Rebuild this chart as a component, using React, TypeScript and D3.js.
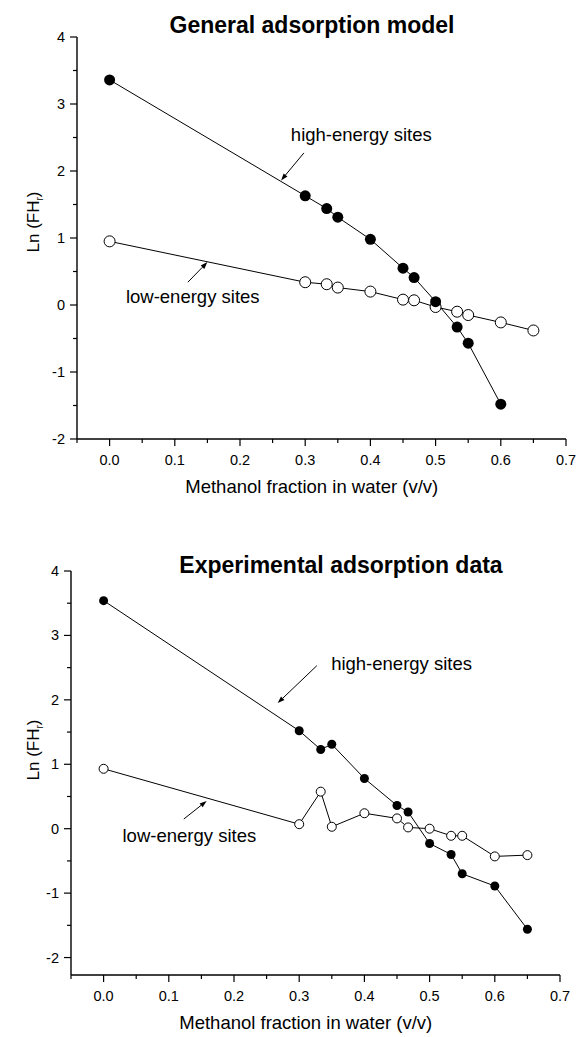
import React from 'react';
import * as d3 from 'd3';

const W = 579;
const H = 1037;
const FONT = '"Liberation Sans", Arial, Helvetica, sans-serif';

// methanol fraction (v/v)
const methanol = [0, 0.3, 0.333, 0.35, 0.4, 0.45, 0.467, 0.5, 0.533, 0.55, 0.6, 0.65];

// General adsorption model
const modelHigh = [3.36, 1.63, 1.44, 1.31, 0.98, 0.55, 0.41, 0.05, -0.33, -0.57, -1.48];
const modelLow = [0.95, 0.34, 0.31, 0.26, 0.2, 0.08, 0.07, -0.03, -0.1, -0.15, -0.26, -0.38];

// Experimental adsorption data
const expHigh = [3.54, 1.52, 1.23, 1.31, 0.78, 0.36, 0.26, -0.23, -0.4, -0.7, -0.89, -1.56];
const expLow = [0.93, 0.07, 0.575, 0.03, 0.24, 0.16, 0.02, 0.0, -0.11, -0.11, -0.43, -0.41];

const xTicks = [0, 0.1, 0.2, 0.3, 0.4, 0.5, 0.6, 0.7];
const xMinor = [-0.05, 0.05, 0.15, 0.25, 0.35, 0.45, 0.55, 0.65];
const yTicks = [-2, -1, 0, 1, 2, 3, 4];
const yMinor = [-1.5, -0.5, 0.5, 1.5, 2.5, 3.5];

type Note = { text: string; tx: number; ty: number; from: [number, number]; to: [number, number] };

const modelNotes: Note[] = [
  { text: 'high-energy sites', tx: 0.278, ty: 2.45, from: [0.298, 2.27], to: [0.263, 1.86] },
  { text: 'low-energy sites', tx: 0.025, ty: 0.03, from: [0.12, 0.34], to: [0.15, 0.64] },
];
const expNotes: Note[] = [
  { text: 'high-energy sites', tx: 0.349, ty: 2.47, from: [0.327, 2.53], to: [0.267, 1.95] },
  { text: 'low-energy sites', tx: 0.029, ty: -0.21, from: [0.123, 0.15], to: [0.158, 0.43] },
];

type PanelProps = {
  title: string;
  titleX: number;
  titleY: number;
  xRange: [number, number];
  yAt: [number, number]; // pixel of y=4 and y=0
  yBottom: number;
  high: number[];
  low: number[];
  notes: Note[];
  r: number;
  labelY: number;
};

function Panel(p: PanelProps) {
  const x = d3.scaleLinear().domain([-0.05, 0.7]).range(p.xRange);
  const y = d3.scaleLinear().domain([4, 0]).range(p.yAt);
  const x0 = x(-0.05);
  const yb = y(p.yBottom);
  const line = d3
    .line<number>()
    .x((_, i) => x(methanol[i]))
    .y((d) => y(d));

  return (
    <g fontFamily={FONT}>
      <text x={p.titleX} y={p.titleY} textAnchor="middle" fontSize={23} fontWeight="bold">
        {p.title}
      </text>

      {/* axes */}
      <line x1={x0} x2={x0} y1={y(4)} y2={yb} stroke="#000" strokeWidth={1.4} />
      <line x1={x0} x2={x(0.7)} y1={yb} y2={yb} stroke="#000" strokeWidth={1.4} />
      {yTicks.map((t) => (
        <g key={'y' + t}>
          <line x1={x0 - 7} x2={x0} y1={y(t)} y2={y(t)} stroke="#000" strokeWidth={1.2} />
          <text x={x0 - 12} y={y(t) + 5} textAnchor="end" fontSize={14.5}>
            {t}
          </text>
        </g>
      ))}
      {yMinor.map((t) => (
        <line key={'ym' + t} x1={x0 - 4} x2={x0} y1={y(t)} y2={y(t)} stroke="#000" strokeWidth={1.2} />
      ))}
      {xTicks.map((t) => (
        <g key={'x' + t}>
          <line x1={x(t)} x2={x(t)} y1={yb} y2={yb + 7} stroke="#000" strokeWidth={1.2} />
          <text x={x(t)} y={yb + 26} textAnchor="middle" fontSize={14.5}>
            {t.toFixed(1)}
          </text>
        </g>
      ))}
      {xMinor.map((t) => (
        <line key={'xm' + t} x1={x(t)} x2={x(t)} y1={yb} y2={yb + 4} stroke="#000" strokeWidth={1.2} />
      ))}
      <text x={x(0.31)} y={yb + 54} textAnchor="middle" fontSize={18.5}>
        Methanol fraction in water (v/v)
      </text>
      <text transform={`translate(39,${p.labelY}) rotate(-90)`} textAnchor="middle" fontSize={17}>
        Ln (FH<tspan fontSize={10} dy={4}>r</tspan>
        <tspan dy={-4}>)</tspan>
      </text>

      {/* series */}
      <path d={line(p.high) || ''} fill="none" stroke="#000" strokeWidth={1} />
      <path d={line(p.low) || ''} fill="none" stroke="#000" strokeWidth={1} />
      {p.low.map((v, i) => (
        <circle key={'l' + i} cx={x(methanol[i])} cy={y(v)} r={p.r} fill="#fff" stroke="#000" strokeWidth={1} />
      ))}
      {p.high.map((v, i) => (
        <circle key={'h' + i} cx={x(methanol[i])} cy={y(v)} r={p.r} fill="#000" />
      ))}

      {/* annotations */}
      {p.notes.map((n, i) => {
        const [fx, fy] = [x(n.from[0]), y(n.from[1])];
        const [tx, ty] = [x(n.to[0]), y(n.to[1])];
        const a = Math.atan2(ty - fy, tx - fx);
        const L = 7;
        const Wd = 2.5;
        const bx = tx - L * Math.cos(a);
        const by = ty - L * Math.sin(a);
        const head = `M${tx},${ty}L${bx - Wd * Math.sin(a)},${by + Wd * Math.cos(a)}L${bx + Wd * Math.sin(a)},${by - Wd * Math.cos(a)}Z`;
        return (
          <g key={'n' + i}>
            <line x1={fx} y1={fy} x2={bx} y2={by} stroke="#000" strokeWidth={1} />
            <path d={head} fill="#000" />
            <text x={x(n.tx)} y={y(n.ty)} fontSize={18.5}>
              {n.text}
            </text>
          </g>
        );
      })}
    </g>
  );
}

export default function App() {
  return (
    <svg
      width={W}
      height={H}
      viewBox={`0 0 ${W} ${H}`}
      style={{ position: 'absolute', left: 0, top: 0, background: '#fff' }}
    >
      <rect width={W} height={H} fill="#fff" />
      <Panel
        title="General adsorption model"
        titleX={312}
        titleY={33}
        xRange={[77, 566]}
        yAt={[37, 305]}
        yBottom={-2}
        high={modelHigh}
        low={modelLow}
        notes={modelNotes}
        r={5.5}
        labelY={222}
      />
      <Panel
        title="Experimental adsorption data"
        titleX={341}
        titleY={573}
        xRange={[71, 560]}
        yAt={[571, 828.7]}
        yBottom={-2.27}
        high={expHigh}
        low={expLow}
        notes={expNotes}
        r={4.5}
        labelY={750}
      />
    </svg>
  );
}
